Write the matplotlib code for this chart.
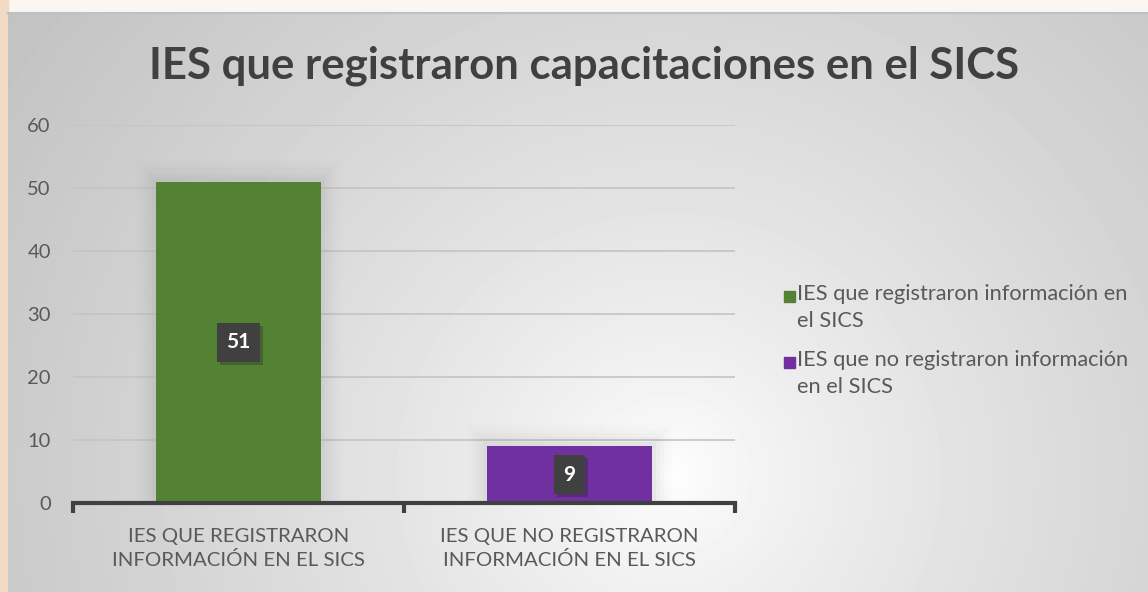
import numpy as np
import matplotlib.pyplot as plt
from matplotlib.patches import Rectangle

categories = ["IES QUE REGISTRARON\nINFORMACIÓN EN EL SICS",
              "IES QUE NO REGISTRARON\nINFORMACIÓN EN EL SICS"]
values = [51, 9]
series_names = ["IES que registraron información en\nel SICS",
                "IES que no registraron información\nen el SICS"]
colors = ["#548235", "#7030A0"]
yticks = [0, 10, 20, 30, 40, 50, 60]

plt.rcParams['font.family'] = ['Lato', 'DejaVu Sans']

W, H = 1148, 592
fig = plt.figure(figsize=(W / 100, H / 100), dpi=100)

# page background with faint decoration on the left edge
bg = fig.add_axes([0, 0, 1, 1])
bg.set_xlim(0, W)
bg.set_ylim(H, 0)
bg.axis('off')
bg.add_patch(Rectangle((0, 0), W, H, color='#fbf6f1', zorder=0))
bg.add_patch(Rectangle((0, 0), 8, H, color='#f1d9c4', zorder=0))

# chart area radial gradient
x0, y0 = 8, 13
gx = np.linspace(0, 1, 300)
gy = np.linspace(0, 1, 160)
GX, GY = np.meshgrid(gx, gy)
d = np.sqrt(((GX - 0.58) * 1.9) ** 2 + ((GY - 0.8) * 1.0) ** 2)
d = np.clip(d / d.max(), 0, 1)
shade = 1.0 - 0.24 * d ** 0.75
bg.imshow(shade, cmap='gray', vmin=0, vmax=1, extent=[x0, W, H, y0],
          aspect='auto', zorder=1, interpolation='bilinear')
bg.plot([x0, W], [y0, y0], color='#c0c0c0', lw=1.5, zorder=2)

# plot area
ax_l, ax_r = 73, 735
ax_b, ax_t = 503, 125
ax = fig.add_axes([ax_l / W, 1 - ax_b / H, (ax_r - ax_l) / W, (ax_b - ax_t) / H])
ax.patch.set_alpha(0)
ax.set_xlim(-0.5, 1.5)
ax.set_ylim(0, 60)

for y in yticks[1:]:
    ax.axhline(y, color='#c4c4c4', lw=1.2, zorder=1)

x = np.arange(len(values))
# soft shadow behind bars
for k, a in enumerate([0.05, 0.04, 0.03, 0.02, 0.015]):
    off = 0.012 * (k + 1)
    ax.bar(x, [v + 0.7 * (k + 1) for v in values], width=0.5 + 2 * off,
           color='#808080', alpha=a, zorder=1.5, lw=0)
bars = ax.bar(x, values, width=0.5, color=colors, zorder=2)

for xi, v in zip(x, values):
    ax.text(xi + 0.01, v / 2 - 0.5, str(v), ha='center', va='center',
            fontsize=15, fontweight='bold', color='#000000', alpha=0,
            bbox=dict(boxstyle='square,pad=0.45', fc='#202020', ec='none', alpha=0.3),
            zorder=3)
    ax.text(xi, v / 2, str(v), ha='center', va='center',
            fontsize=15, fontweight='bold', color='white',
            bbox=dict(boxstyle='square,pad=0.45', fc='#404040', ec='none'),
            zorder=4)

for s in ['top', 'right', 'left']:
    ax.spines[s].set_visible(False)
ax.spines['bottom'].set_color('#404040')
ax.spines['bottom'].set_linewidth(3)

ax.set_yticks(yticks)
ax.tick_params(axis='y', length=0, pad=16, labelsize=14.5, labelcolor='#595959')
ax.set_xticks([-0.5, 0.5, 1.5])
ax.set_xticklabels([])
ax.tick_params(axis='x', direction='out', length=7, width=3, color='#404040')
for xi, lab in zip(x, categories):
    ax.text(xi, -3.9, lab, ha='center', va='top', fontsize=14.7,
            color='#595959', linespacing=1.45)

# title
fig.text(584 / W, 1 - 66 / H, "IES que registraron capacitaciones en el SICS",
         ha='center', va='center', fontsize=31.5, fontweight='bold', color='#404040')

# legend
for i, (name, c) in enumerate(zip(series_names, colors)):
    ly = 297 + 66 * i
    bg.add_patch(Rectangle((784, ly - 6), 11, 11, color=c, zorder=3))
    bg.text(797, ly - 13, name, ha='left', va='top', fontsize=15.7,
            color='#595959', linespacing=1.45, zorder=3)

fig.savefig('out.png', dpi=100)
